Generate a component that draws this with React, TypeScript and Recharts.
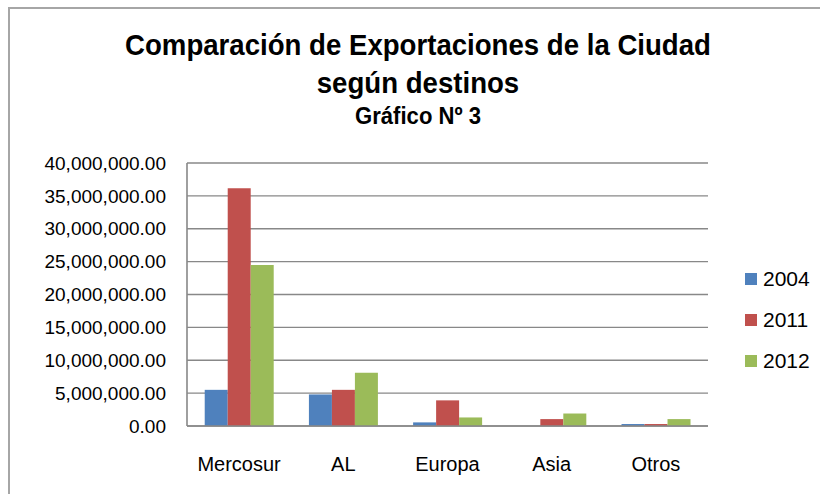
import React from "react";
import { BarChart, Bar, XAxis, YAxis, CartesianGrid } from "recharts";

// destinos (categorías del eje X)
const DESTINOS = ["Mercosur", "AL", "Europa", "Asia", "Otros"];

// exportaciones por año
const EXP_2004 = [5500000, 4800000, 550000, 0, 300000];
const EXP_2011 = [36150000, 5500000, 3900000, 1050000, 300000];
const EXP_2012 = [24500000, 8100000, 1300000, 1900000, 1050000];

const Y_TICKS = [0, 5000000, 10000000, 15000000, 20000000, 25000000, 30000000, 35000000, 40000000];

const SERIES = [
  { key: "2004", color: "#4F81BD" },
  { key: "2011", color: "#C0504D" },
  { key: "2012", color: "#9BBB59" },
];

const data = DESTINOS.map((name, i) => ({
  name,
  "2004": EXP_2004[i],
  "2011": EXP_2011[i],
  "2012": EXP_2012[i],
}));

const TITLE_FONT = '"Liberation Sans", Arial, sans-serif';
const BODY_FONT = '"Liberation Sans", Arial, sans-serif';

const fmt = (v: number) =>
  v.toLocaleString("en-US", { minimumFractionDigits: 2, maximumFractionDigits: 2 });

export default function App() {
  return (
    <div
      style={{
        position: "absolute",
        left: 0,
        top: 0,
        width: 820,
        height: 494,
        background: "#fff",
        overflow: "hidden",
      }}
    >
      <div
        style={{
          position: "absolute",
          left: 8,
          top: 7,
          width: 900,
          height: 600,
          borderTop: "2px solid #a6a6a6",
          borderLeft: "2px solid #a6a6a6",
        }}
      />
      <div
        style={{
          position: "absolute",
          left: 0,
          top: 26,
          width: 836,
          textAlign: "center",
          fontFamily: TITLE_FONT,
          fontWeight: "bold",
          color: "#000",
          transform: "scaleX(0.92)",
        }}
      >
        <div style={{ fontSize: 30, lineHeight: "38px" }}>
          Comparación de Exportaciones de la Ciudad
        </div>
        <div style={{ fontSize: 30, lineHeight: "37px" }}>según destinos</div>
        <div style={{ fontSize: 24, lineHeight: "30px" }}>Gráfico Nº 3</div>
      </div>
      <div style={{ position: "absolute", left: 0, top: 0 }}>
        <BarChart
          width={820}
          height={494}
          data={data}
          margin={{ top: 163, right: 112, bottom: 28, left: 0 }}
          barCategoryGap="17%"
          barGap={0}
        >
          <CartesianGrid vertical={false} stroke="#888" strokeWidth={1.4} />
          <XAxis
            dataKey="name"
            height={40}
            tickLine={false}
            tickMargin={25}
            stroke="#888"
            strokeWidth={1.6}
            tick={{ fill: "#000", fontSize: 20, fontFamily: BODY_FONT }}
          />
          <YAxis
            width={187}
            domain={[0, 40000000]}
            ticks={Y_TICKS}
            interval={0}
            tickFormatter={fmt}
            tickLine={false}
            tickMargin={15}
            stroke="#888"
            strokeWidth={1.6}
            tick={{ fill: "#000", fontSize: 19, fontFamily: BODY_FONT }}
          />
          {SERIES.map((s) => (
            <Bar
              key={s.key}
              dataKey={s.key}
              fill={s.color}
              isAnimationActive={false}
            />
          ))}
        </BarChart>
      </div>
      <div
        style={{
          position: "absolute",
          left: 745,
          top: 258,
          fontFamily: BODY_FONT,
        }}
      >
        {SERIES.map((s) => (
          <div
            key={s.key}
            style={{ display: "flex", alignItems: "center", height: 41, gap: 6 }}
          >
            <div style={{ width: 12, height: 12, backgroundColor: s.color }} />
            <div style={{ fontSize: 21, color: "#000" }}>{s.key}</div>
          </div>
        ))}
      </div>
    </div>
  );
}
